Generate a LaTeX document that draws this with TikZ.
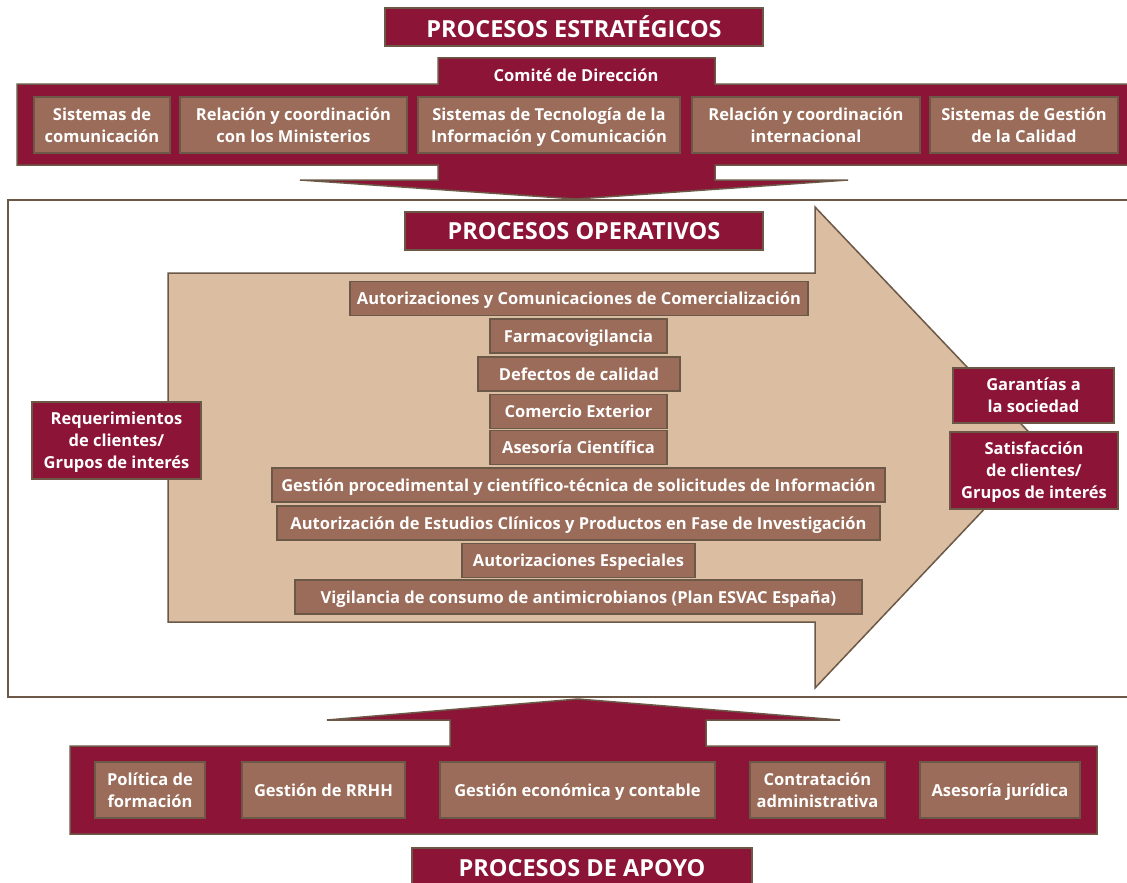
\documentclass[tikz,border=0pt]{standalone}
\usepackage{fontspec}
\setmainfont{Open Sans}
\usetikzlibrary{positioning}
\definecolor{granate}{RGB}{140,20,54}
\definecolor{marron}{RGB}{154,108,89}
\definecolor{borde}{RGB}{107,88,70}
\definecolor{arena}{RGB}{219,189,161}
\tikzset{
    titulo/.style={draw=borde, line width=1.5pt, fill=granate, text=white, inner sep=0pt,
        text depth=0pt, font=\bfseries\fontsize{23.5}{26}\selectfont},
    caja/.style={draw=borde, line width=1.5pt, fill=marron, text=white, inner sep=0pt,
        text depth=0pt, align=center, font=\bfseries\fontsize{16.5}{22}\selectfont},
    destacado/.style={caja, fill=granate},
    banda/.style={draw=borde, line width=1.5pt, fill=granate, line join=miter}
}

\begin{document}
\begin{tikzpicture}[x=1pt, y=-1pt]
    \useasboundingbox (0,0) rectangle (1127,883);

    % Frame of the operative processes
    \draw[borde, line width=1.5pt, fill=white] (8,200) rectangle (1135,697);

    % Strategic band with arrow down
    \draw[banda] (17,84) -- (438,84) -- (438,58) -- (715,58) -- (715,84) -- (1135,84)
        -- (1135,165) -- (715,165) -- (715,180) -- (848,180) -- (576,199) -- (300,180)
        -- (438,180) -- (438,165) -- (17,165) -- cycle;

    % Support band with arrow up
    \draw[banda] (70,746) -- (450,746) -- (450,720) -- (327,720) -- (578,699) -- (840,720)
        -- (706,720) -- (706,746) -- (1097,746) -- (1097,834) -- (70,834) -- cycle;

    % Big arrow
    \draw[borde, line width=1.5pt, fill=arena, line join=miter] (168,273) -- (815,273) -- (815,207)
        -- (1043,447) -- (815,688) -- (815,622) -- (168,622) -- cycle;

    % Titles
    \node[titulo, minimum width=378, minimum height=38] (estrategicos) at (574,27) {PROCESOS ESTRATÉGICOS};
    \node[titulo, minimum width=358, minimum height=38] (operativos) at (584,231) {PROCESOS OPERATIVOS};
    \node[titulo, minimum width=340, minimum height=40] (apoyo) at (582,868) {PROCESOS DE APOYO};
    \node[text=white, text depth=0pt, font=\bfseries\fontsize{16.5}{22}\selectfont] (comite) at (576,75) {Comité de Dirección};

    % Strategic processes
    \node[caja, minimum width=136, minimum height=56] (comunicacion) at (102,125) {Sistemas de\\comunicación};
    \node[caja, minimum width=227, minimum height=56] (ministerios) at (293.5,125) {Relación y coordinación\\con los Ministerios};
    \node[caja, minimum width=262, minimum height=56] (tic) at (549,125) {Sistemas de Tecnología de la\\Información y Comunicación};
    \node[caja, minimum width=228, minimum height=56] (internacional) at (806,125) {Relación y coordinación\\internacional};
    \node[caja, minimum width=188, minimum height=56] (calidad) at (1024,125) {Sistemas de Gestión\\de la Calidad};

    % Operative processes
    \node[caja, minimum width=458, minimum height=34] (comercializacion) at (579,298.5) {Autorizaciones y Comunicaciones de Comercialización};
    \node[caja, minimum width=177, minimum height=34] (farmaco) at (578.5,336) {Farmacovigilancia};
    \node[caja, minimum width=202, minimum height=34] (defectos) at (579,374) {Defectos de calidad};
    \node[caja, minimum width=177, minimum height=34] (exterior) at (578.5,411.5) {Comercio Exterior};
    \node[caja, minimum width=177, minimum height=34] (asesoria) at (578.5,447.5) {Asesoría Científica};
    \node[caja, minimum width=613, minimum height=34] (solicitudes) at (578.5,485) {Gestión procedimental y científico-técnica de solicitudes de Información};
    \node[caja, minimum width=603, minimum height=34] (estudios) at (578.5,523) {Autorización de Estudios Clínicos y Productos en Fase de Investigación};
    \node[caja, minimum width=233, minimum height=34] (especiales) at (578.5,560.5) {Autorizaciones Especiales};
    \node[caja, minimum width=567, minimum height=34] (esvac) at (578.5,597) {Vigilancia de consumo de antimicrobianos (Plan ESVAC España)};

    % Inputs and outputs
    \node[destacado, minimum width=169, minimum height=77] (requerimientos) at (116.5,440.5) {Requerimientos\\de clientes/\\Grupos de interés};
    \node[destacado, minimum width=161, minimum height=55] (garantias) at (1033.5,395.5) {Garantías a\\la sociedad};
    \node[destacado, minimum width=168, minimum height=77] (satisfaccion) at (1034,470.5) {Satisfacción\\de clientes/\\Grupos de interés};

    % Support processes
    \node[caja, minimum width=110, minimum height=56] (formacion) at (150,790) {Política de\\formación};
    \node[caja, minimum width=163, minimum height=56] (rrhh) at (323.5,790) {Gestión de RRHH};
    \node[caja, minimum width=275, minimum height=56] (economica) at (577.5,790) {Gestión económica y contable};
    \node[caja, minimum width=135, minimum height=56] (contratacion) at (817.5,790) {Contratación\\administrativa};
    \node[caja, minimum width=160, minimum height=56] (juridica) at (1000,790) {Asesoría jurídica};
\end{tikzpicture}
\end{document}
